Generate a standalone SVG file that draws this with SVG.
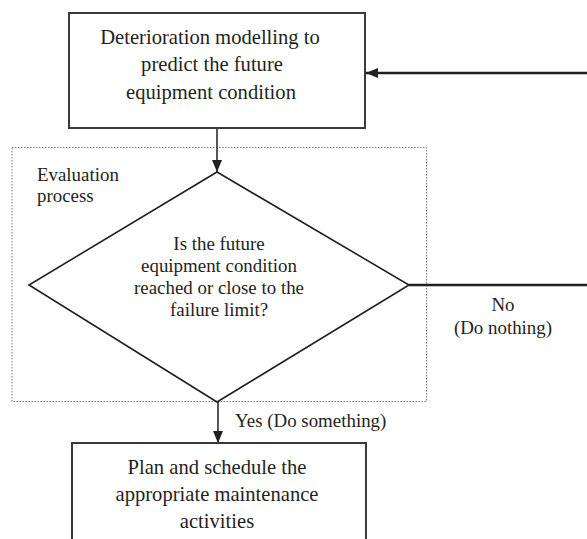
<svg xmlns="http://www.w3.org/2000/svg" width="587" height="539" viewBox="0 0 587 539">
<style>
text{font-family:"Liberation Serif","Times New Roman",serif;fill:#231f20;text-anchor:middle}
.big{font-size:20.6px}
.sm{font-size:18.9px}
.box{fill:#fff;stroke:#3a3a3a;stroke-width:2}
.dia{fill:#fff;stroke:#231f20;stroke-width:1.6}
.thin{stroke:#444;stroke-width:1.8;fill:none}
.thick{stroke:#231f20;stroke-width:2.6;fill:none}
</style>
<defs>
<marker id="ah" viewBox="0 0 12 10" refX="12" refY="5" markerWidth="12" markerHeight="10" markerUnits="userSpaceOnUse" orient="auto">
<path d="M0,0 L12,5 L0,10 Z" fill="#231f20"/>
</marker>
</defs>
<g id="evaluation-process">
<rect x="12" y="147.5" width="414.5" height="254" fill="none" stroke="#777" stroke-width="1" stroke-dasharray="1.5,1.5"/>
<text class="sm" x="37" y="180.5" style="text-anchor:start">Evaluation</text>
<text class="sm" x="37" y="201.5" style="text-anchor:start">process</text>
</g>
<g id="connectors">
<line class="thick" x1="587" y1="73" x2="366" y2="73" marker-end="url(#ah)"/>
<line class="thin" x1="217" y1="128" x2="217" y2="172" marker-end="url(#ah)"/>
<line class="thick" x1="409" y1="285" x2="587" y2="285"/>
<line class="thin" x1="218" y1="402" x2="218" y2="443" marker-end="url(#ah)"/>
<text class="sm" x="503" y="311">No</text>
<text class="sm" x="503" y="334">(Do nothing)</text>
<text class="sm" x="235" y="427" style="text-anchor:start">Yes (Do something)</text>
</g>
<g id="model-box">
<rect class="box" x="69" y="13" width="296" height="115"/>
<text class="big" x="210" y="43.5">Deterioration modelling to</text>
<text class="big" x="212" y="71">predict the future</text>
<text class="big" x="211" y="98.5">equipment condition</text>
</g>
<g id="decision">
<polygon class="dia" points="217,172 409,285 217,402 29,285"/>
<text class="sm" x="219" y="249.5">Is the future</text>
<text class="sm" x="219" y="272">equipment condition</text>
<text class="sm" x="219" y="293.5">reached or close to the</text>
<text class="sm" x="219" y="315.5">failure limit?</text>
</g>
<g id="plan-box">
<rect class="box" x="72" y="443" width="294" height="110"/>
<text class="big" x="217" y="474">Plan and schedule the</text>
<text class="big" x="217" y="501">appropriate maintenance</text>
<text class="big" x="217" y="528">activities</text>
</g>
</svg>
